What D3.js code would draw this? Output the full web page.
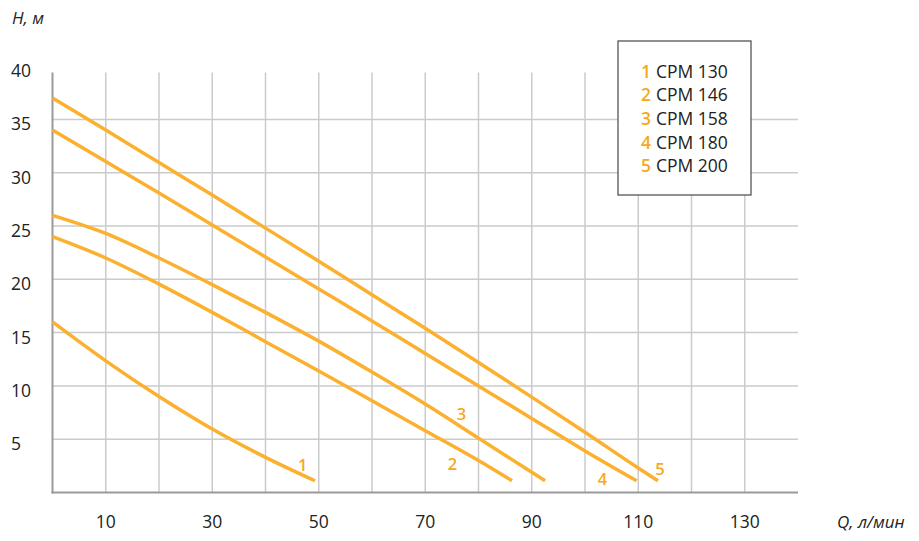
<!DOCTYPE html>
<html>
<head>
<meta charset="utf-8">
<script src="https://cdn.jsdelivr.net/npm/d3@7/dist/d3.min.js"></script>
<style>
  html, body { margin: 0; padding: 0; background: #fff; }
  svg { display: block; font-family: "Open Sans", "Noto Sans", sans-serif; }
</style>
</head>
<body>
<svg id="chart" width="919" height="541"></svg>
<script>
// ---- data ----
const xTickLabels = [10, 30, 50, 70, 90, 110, 130];
const xGrid = [10, 20, 30, 40, 50, 60, 70, 80, 90, 100, 110, 120, 130];
const yTickLabels = [5, 10, 15, 20, 25, 30, 35, 40];
const yGrid = [5, 10, 15, 20, 25, 30, 35];

const seriesNames = ["CPM 130", "CPM 146", "CPM 158", "CPM 180", "CPM 200"];
const seriesNumbers = ["1", "2", "3", "4", "5"];

const curve1 = [[0,16.0],[10,12.35],[20,9.0],[30,5.95],[40,3.3],[49.3,1.1]];
const curve2 = [[0,24.0],[10,22.0],[20,19.55],[30,16.9],[40,14.15],[50,11.4],[60,8.6],[70,5.8],[80,3.0],[86.3,1.1]];
const curve3 = [[0,26.0],[10,24.3],[20,22.0],[30,19.5],[40,16.9],[50,14.2],[60,11.3],[70,8.3],[80,5.1],[90,1.9],[92.5,1.1]];
const curve4 = [[0,34.0],[10,31.05],[20,28.1],[30,25.1],[40,22.1],[50,19.1],[60,16.1],[70,13.05],[80,10.0],[90,6.95],[100,3.9],[109.7,1.1]];
const curve5 = [[0,37.0],[10,34.0],[20,30.95],[30,27.9],[40,24.8],[50,21.7],[60,18.55],[70,15.4],[80,12.2],[90,8.95],[100,5.65],[110,2.3],[113.7,1.1]];
const curves = [curve1, curve2, curve3, curve4, curve5];

// curve number labels (in data units Q, H)
const curveLabelPos = [[47.0,2.6],[75.1,2.7],[76.8,7.4],[103.3,1.3],[114.1,2.2]];

const xTitle = "Q, л/мин";
const yTitle = "H, м";

// ---- drawing ----
const orange = "#FBB12F";
const labelOrange = "#F7A823";
const svg = d3.select("#chart");

const x = d3.scaleLinear().domain([0, 140]).range([52.5, 798]);
const y = d3.scaleLinear().domain([0, 39.4]).range([492.5, 72.5]);

// grid
const g = svg.append("g");
g.selectAll("line.vg").data(xGrid).join("line")
  .attr("x1", d => x(d)).attr("x2", d => x(d))
  .attr("y1", y(39.4)).attr("y2", y(0))
  .attr("stroke", "#cbcbcb").attr("stroke-width", 1.5);
g.selectAll("line.hg").data(yGrid).join("line")
  .attr("x1", x(0)).attr("x2", x(140))
  .attr("y1", d => y(d)).attr("y2", d => y(d))
  .attr("stroke", "#cbcbcb").attr("stroke-width", 1.5);

// axes lines
svg.append("line").attr("x1", x(0)).attr("x2", x(0)).attr("y1", y(39.4)).attr("y2", y(0) + 1)
  .attr("stroke", "#9a9a9a").attr("stroke-width", 2);
svg.append("line").attr("x1", x(0) - 1).attr("x2", x(140)).attr("y1", y(0)).attr("y2", y(0))
  .attr("stroke", "#9a9a9a").attr("stroke-width", 2);

// tick labels
svg.selectAll("text.yt").data(yTickLabels).join("text")
  .attr("x", 11).attr("y", d => y(d) + 11)
  .attr("font-size", 17.5).attr("fill", "#222")
  .text(d => d);
svg.selectAll("text.xt").data(xTickLabels).join("text")
  .attr("x", d => x(d)).attr("y", 528)
  .attr("text-anchor", "middle")
  .attr("font-size", 17.5).attr("fill", "#222")
  .text(d => d);

// titles
svg.append("text").attr("x", 12).attr("y", 24).attr("font-size", 17)
  .attr("font-style", "italic").attr("fill", "#222").text(yTitle);
svg.append("text").attr("x", 837).attr("y", 528).attr("font-size", 17)
  .attr("font-style", "italic").attr("fill", "#222").text(xTitle);

// curves
const line = d3.line().x(d => x(d[0])).y(d => y(d[1])).curve(d3.curveMonotoneX);
svg.selectAll("path.c").data(curves).join("path")
  .attr("d", line)
  .attr("fill", "none").attr("stroke", orange).attr("stroke-width", 3.5);

// curve labels
svg.selectAll("text.cl").data(curveLabelPos).join("text")
  .attr("x", d => x(d[0])).attr("y", d => y(d[1]) + 6)
  .attr("text-anchor", "middle")
  .attr("font-size", 16.5).attr("font-weight", 600).attr("fill", labelOrange)
  .text((d, i) => seriesNumbers[i]);

// legend
const lg = svg.append("g");
lg.append("rect").attr("x", 618).attr("y", 41).attr("width", 133).attr("height", 154)
  .attr("fill", "#fff").attr("stroke", "#555").attr("stroke-width", 1.3);
const rows = lg.selectAll("g.row").data(seriesNames).join("g")
  .attr("transform", (d, i) => `translate(0, ${77.5 + i * 23.7})`);
rows.append("text").attr("x", 641).attr("y", 0)
  .attr("font-size", 17.5).attr("font-weight", 600).attr("fill", labelOrange)
  .text((d, i) => seriesNumbers[i]);
rows.append("text").attr("x", 656).attr("y", 0)
  .attr("font-size", 17.5).attr("fill", "#222")
  .text(d => d);
</script>
</body>
</html>
